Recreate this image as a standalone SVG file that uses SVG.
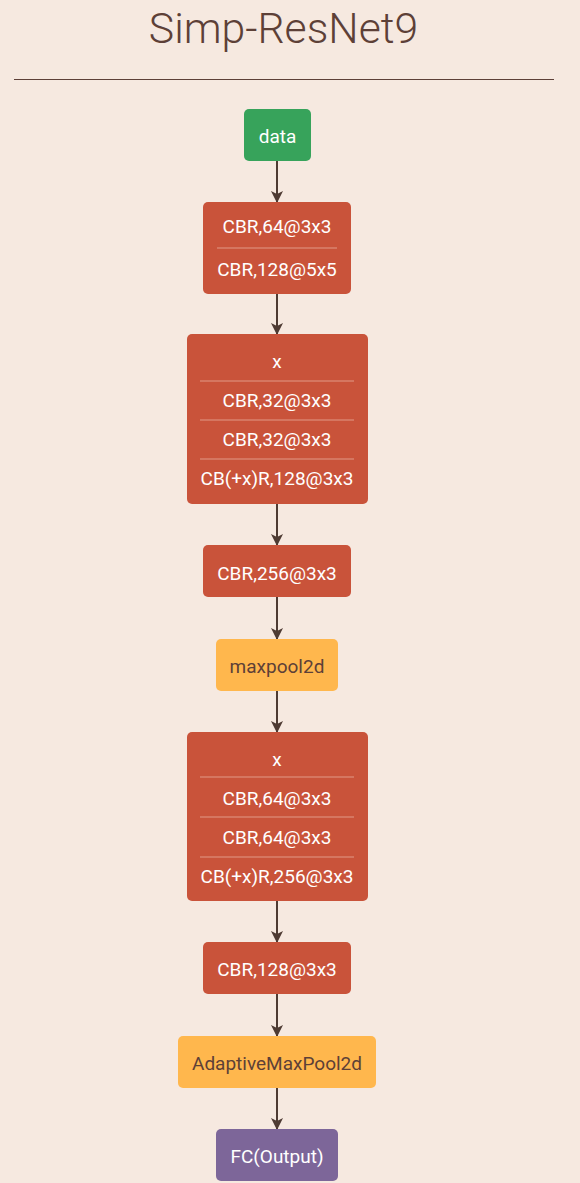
<svg xmlns="http://www.w3.org/2000/svg" width="580" height="1183" viewBox="0 0 580 1183">
<style>
.t{font-family:Roboto,"Liberation Sans",sans-serif;font-size:19px;text-anchor:middle;dominant-baseline:central}
.w{fill:#ffffff;font-weight:400}
.d{fill:#5d4037}
.red{fill:#c9533a}
.div{stroke:#e29a86;stroke-width:1.2}
.c{stroke:#4e3b33;stroke-width:2;fill:none}
</style>
<defs>
<marker id="ah" viewBox="0 0 12 12" refX="11" refY="6" markerWidth="12" markerHeight="12" markerUnits="userSpaceOnUse" orient="auto">
<path d="M0,0 L12,6 L0,12 L3,6 Z" fill="#4e3b33"/>
</marker>
</defs>
<rect width="580" height="1183" fill="#f6e9e0"/>
<text x="283.5" y="28" font-family="Roboto,'Liberation Sans',sans-serif" font-weight="300" font-size="42.7" fill="#5d4037" text-anchor="middle" dominant-baseline="central">Simp-ResNet9</text>
<line x1="14" y1="79.5" x2="554" y2="79.5" stroke="#5d4037" stroke-width="1.2"/>
<g id="connectors">
<line class="c" x1="277" y1="161" x2="277" y2="202" marker-end="url(#ah)"/>
<line class="c" x1="277" y1="294" x2="277" y2="334" marker-end="url(#ah)"/>
<line class="c" x1="277" y1="504" x2="277" y2="545" marker-end="url(#ah)"/>
<line class="c" x1="277" y1="597" x2="277" y2="639" marker-end="url(#ah)"/>
<line class="c" x1="277" y1="691" x2="277" y2="732" marker-end="url(#ah)"/>
<line class="c" x1="277" y1="901" x2="277" y2="942" marker-end="url(#ah)"/>
<line class="c" x1="277" y1="994" x2="277" y2="1036" marker-end="url(#ah)"/>
<line class="c" x1="277" y1="1088" x2="277" y2="1129" marker-end="url(#ah)"/>
</g>
<g id="data">
<rect x="244" y="109" width="67" height="52" rx="5" fill="#37a35b"/>
<text class="t w" x="277.5" y="136">data</text>
</g>
<g id="block1">
<rect class="red" x="203" y="202" width="148" height="92" rx="5"/>
<line class="div" x1="217" y1="248" x2="337" y2="248"/>
<text class="t w" x="277" y="226">CBR,64@3x3</text>
<text class="t w" x="277" y="269">CBR,128@5x5</text>
</g>
<g id="block2">
<rect class="red" x="187" y="334" width="181" height="170" rx="5"/>
<line class="div" x1="200" y1="381" x2="354" y2="381"/>
<line class="div" x1="200" y1="420" x2="354" y2="420"/>
<line class="div" x1="200" y1="459" x2="354" y2="459"/>
<text class="t w" x="277" y="361">x</text>
<text class="t w" x="277" y="400">CBR,32@3x3</text>
<text class="t w" x="277" y="439">CBR,32@3x3</text>
<text class="t w" x="277" y="478">CB(+x)R,128@3x3</text>
</g>
<g id="block3">
<rect class="red" x="203" y="545" width="148" height="52" rx="5"/>
<text class="t w" x="277" y="573">CBR,256@3x3</text>
</g>
<g id="maxpool">
<rect x="216" y="639" width="122" height="52" rx="5" fill="#ffb74d"/>
<text class="t d" x="277" y="666">maxpool2d</text>
</g>
<g id="block5">
<rect class="red" x="187" y="732" width="181" height="169" rx="5"/>
<line class="div" x1="200" y1="777" x2="354" y2="777"/>
<line class="div" x1="200" y1="817" x2="354" y2="817"/>
<line class="div" x1="200" y1="857" x2="354" y2="857"/>
<text class="t w" x="277" y="759">x</text>
<text class="t w" x="277" y="798">CBR,64@3x3</text>
<text class="t w" x="277" y="837">CBR,64@3x3</text>
<text class="t w" x="277" y="876">CB(+x)R,256@3x3</text>
</g>
<g id="block6">
<rect class="red" x="203" y="942" width="148" height="52" rx="5"/>
<text class="t w" x="277" y="969">CBR,128@3x3</text>
</g>
<g id="adaptive">
<rect x="178" y="1036" width="198" height="52" rx="5" fill="#ffb74d"/>
<text class="t d" x="277" y="1063">AdaptiveMaxPool2d</text>
</g>
<g id="fc">
<rect x="216" y="1129" width="122" height="52" rx="5" fill="#7d6699"/>
<text class="t w" x="277" y="1156">FC(Output)</text>
</g>
</svg>
